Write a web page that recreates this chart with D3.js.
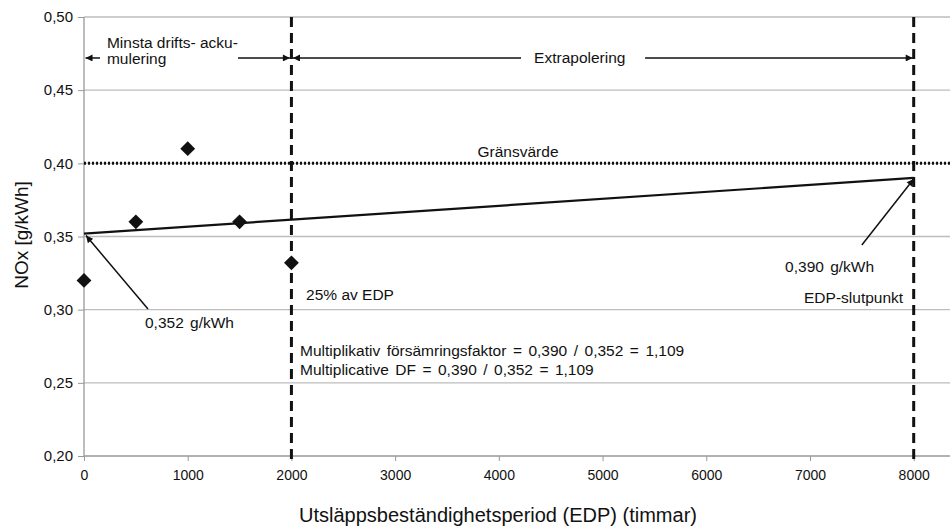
<!DOCTYPE html>
<html>
<head>
<meta charset="utf-8">
<script src="https://cdn.jsdelivr.net/npm/d3@7"></script>
<style>
  body { margin: 0; background: #fff; }
  text { font-family: "Liberation Sans", Arial, sans-serif; fill: #111; }
</style>
</head>
<body>
<script>
// Data
const hours = [0, 500, 1000, 1500, 2000];
const nox = [0.32, 0.36, 0.41, 0.36, 0.332];
const trendHours = [0, 8000];
const trendNox = [0.352, 0.390];
const limitValue = 0.40;
const markerHours = [2000, 8000];
const xTicks = [0, 1000, 2000, 3000, 4000, 5000, 6000, 7000, 8000];
const yTicks = [0.20, 0.25, 0.30, 0.35, 0.40, 0.45, 0.50];

const w = 950;
const h = 530;
const pLeft = 84, pRight = 950, pTop = 17, pBottom = 456;
const fs = 15.5;

const svg = d3.select("body").append("svg")
    .attr("width", w)
    .attr("height", h);

const x = d3.scaleLinear().domain([0, 8350]).range([pLeft, pRight]);
const y = d3.scaleLinear().domain([0.2, 0.5]).range([pBottom, pTop]);

const comma = v => d3.format(".2f")(v).replace(".", ",");

// arrow heads
const defs = svg.append("defs");
defs.append("marker")
    .attr("id", "arr")
    .attr("viewBox", "0 0 10 10")
    .attr("refX", 10).attr("refY", 5)
    .attr("markerWidth", 10).attr("markerHeight", 7)
    .attr("markerUnits", "userSpaceOnUse")
    .attr("orient", "auto")
    .append("path").attr("d", "M0,0L10,5L0,10Z").attr("fill", "#111");
defs.append("marker")
    .attr("id", "arrs")
    .attr("viewBox", "0 0 10 10")
    .attr("refX", 0).attr("refY", 5)
    .attr("markerWidth", 10).attr("markerHeight", 7)
    .attr("markerUnits", "userSpaceOnUse")
    .attr("orient", "auto")
    .append("path").attr("d", "M10,0L0,5L10,10Z").attr("fill", "#111");

// grid
svg.append("g").selectAll("line")
    .data(yTicks.slice(1))
    .enter().append("line")
    .attr("x1", pLeft).attr("x2", pRight)
    .attr("y1", d => y(d)).attr("y2", d => y(d))
    .attr("stroke", "#bdbdbd").attr("stroke-width", 1.3);

// axes
const xAxis = d3.axisBottom(x).tickValues(xTicks).tickSize(5).tickPadding(9).tickFormat(d => d);
const gx = svg.append("g")
    .attr("transform", "translate(0," + pBottom + ")")
    .call(xAxis);
gx.select(".domain").attr("stroke", "#999").attr("stroke-width", 1.3).attr("d", "M" + pLeft + ",0H" + pRight);
gx.selectAll(".tick line").attr("stroke", "#999");
gx.selectAll("text").attr("font-size", 14).attr("fill", "#111")
    .attr("font-family", "'Liberation Sans Narrow', 'Liberation Sans', sans-serif");

const yAxis = d3.axisLeft(y).tickValues(yTicks).tickSize(6).tickPadding(5).tickFormat(comma);
const gy = svg.append("g")
    .attr("transform", "translate(" + pLeft + ",0)")
    .call(yAxis);
gy.select(".domain").attr("stroke", "#999").attr("stroke-width", 1.3).attr("d", "M0," + pTop + "V" + pBottom);
gy.selectAll(".tick line").attr("stroke", "#999");
gy.selectAll("text").attr("font-size", 15).attr("fill", "#111");

// axis titles
svg.append("text")
    .attr("x", 498).attr("y", 522)
    .attr("text-anchor", "middle")
    .attr("font-size", 20)
    .text("Utsläppsbeständighetsperiod (EDP) (timmar)");

svg.append("text")
    .attr("transform", "translate(28," + 235 + ") rotate(-90)")
    .attr("text-anchor", "middle")
    .attr("font-size", 19)
    .text("NOx [g/kWh]");

// limit line
svg.append("line")
    .attr("x1", pLeft).attr("x2", pRight)
    .attr("y1", y(limitValue)).attr("y2", y(limitValue))
    .attr("stroke", "#111").attr("stroke-width", 3)
    .attr("stroke-dasharray", "2,2");

svg.append("text")
    .attr("x", x(4185)).attr("y", y(limitValue) - 6)
    .attr("text-anchor", "middle").attr("font-size", fs)
    .text("Gränsvärde");

// vertical dashed markers
svg.append("g").selectAll("line")
    .data(markerHours)
    .enter().append("line")
    .attr("x1", d => x(d)).attr("x2", d => x(d))
    .attr("y1", pTop).attr("y2", pBottom + 6)
    .attr("stroke", "#111").attr("stroke-width", 3)
    .attr("stroke-dasharray", "10,6");

// trend line
svg.append("line")
    .attr("x1", x(trendHours[0])).attr("y1", y(trendNox[0]))
    .attr("x2", x(trendHours[1])).attr("y2", y(trendNox[1]))
    .attr("stroke", "#111").attr("stroke-width", 2.2);

// points (diamonds)
svg.append("g").selectAll("path")
    .data(hours)
    .enter().append("path")
    .attr("transform", (d, i) => "translate(" + x(d) + "," + y(nox[i]) + ") rotate(45)")
    .attr("d", d3.symbol(d3.symbolSquare, 110))
    .attr("fill", "#111");

// annotation arrows
function arrow(x1, y1, x2, y2) {
    return svg.append("line")
        .attr("x1", x1).attr("y1", y1).attr("x2", x2).attr("y2", y2)
        .attr("stroke", "#111").attr("stroke-width", 1.5)
        .attr("marker-end", "url(#arr)");
}

const ay = y(0.472);
arrow(x(154), ay, x(15), ay);
arrow(x(1485), ay, x(1985), ay);
svg.append("line").attr("x1", x(2015)).attr("y1", ay).attr("x2", x(4214)).attr("y2", ay)
    .attr("stroke", "#111").attr("stroke-width", 1.5).attr("marker-start", "url(#arrs)");
arrow(x(5410), ay, x(7990), ay);

svg.append("text").attr("x", x(221)).attr("y", y(0.4788)).attr("font-size", fs).text("Minsta drifts- acku-");
svg.append("text").attr("x", x(221)).attr("y", y(0.4679)).attr("font-size", fs).text("mulering");
svg.append("text").attr("x", x(4340)).attr("y", ay + 5).attr("font-size", fs).text("Extrapolering");

// value callouts
arrow(x(617), y(0.3005), x(trendHours[0]) + 2, y(trendNox[0]) + 2);
svg.append("text").attr("x", x(588)).attr("y", y(0.2875)).attr("font-size", fs)
    .attr("word-spacing", 2).text("0,352 g/kWh");

arrow(x(7500), y(0.3442), x(trendHours[1]), y(trendNox[1]) + 1);
svg.append("text").attr("x", x(6760)).attr("y", y(0.3257)).attr("font-size", fs)
    .attr("word-spacing", 2).text("0,390 g/kWh");
svg.append("text").attr("x", x(7898)).attr("y", y(0.3046)).attr("text-anchor", "end").attr("font-size", fs).text("EDP-slutpunkt");

svg.append("text").attr("x", x(2141)).attr("y", y(0.3066)).attr("font-size", fs).text("25% av EDP");
svg.append("text").attr("x", x(2083)).attr("y", y(0.2683)).attr("font-size", fs).attr("word-spacing", 2.2)
    .text("Multiplikativ försämringsfaktor = 0,390 / 0,352 = 1,109");
svg.append("text").attr("x", x(2083)).attr("y", y(0.2554)).attr("font-size", fs).attr("word-spacing", 2.2)
    .text("Multiplicative DF = 0,390 / 0,352 = 1,109");
</script>
</body>
</html>
